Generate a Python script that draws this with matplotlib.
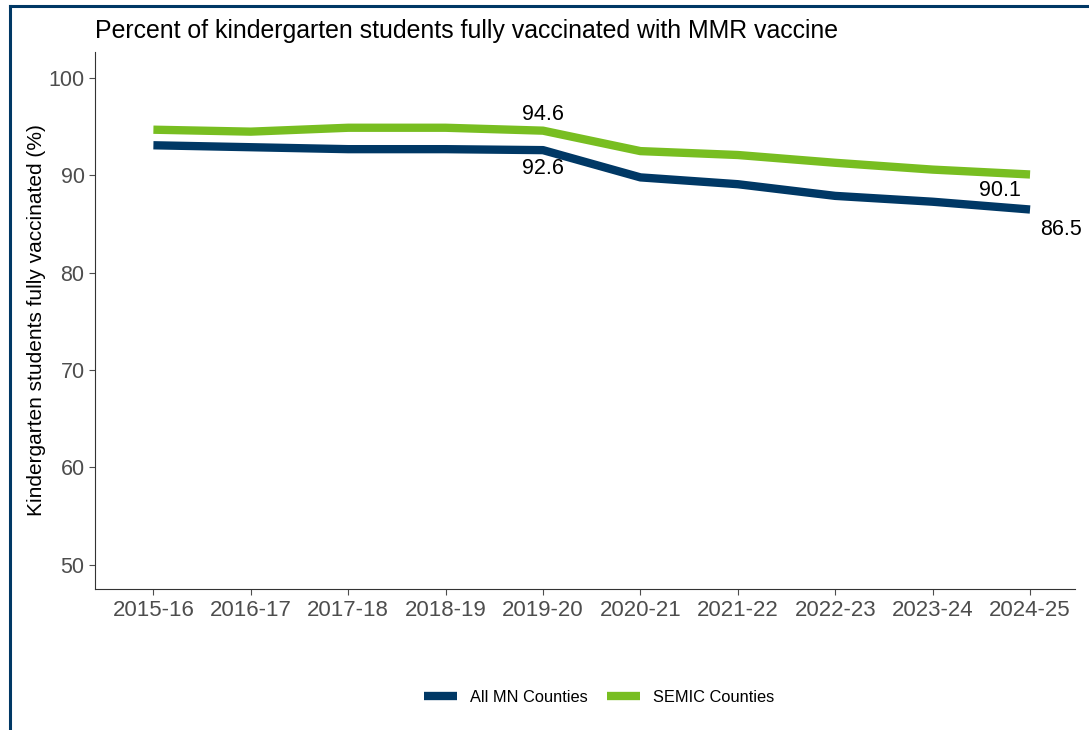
import matplotlib
matplotlib.use("Agg")
import matplotlib.pyplot as plt
from matplotlib.lines import Line2D

# Datos
years = ["2015-16", "2016-17", "2017-18", "2018-19", "2019-20",
         "2020-21", "2021-22", "2022-23", "2023-24", "2024-25"]
all_mn = [93.1, 92.9, 92.7, 92.7, 92.6, 89.8, 89.1, 87.9, 87.3, 86.5]
semic = [94.7, 94.5, 94.9, 94.9, 94.6, 92.5, 92.1, 91.3, 90.6, 90.1]

BLUE = "#003865"
GREEN = "#78BE21"

plt.rcParams['font.family'] = ['Liberation Sans', 'DejaVu Sans']

fig = plt.figure(figsize=(10.89, 7.30), dpi=100)
ax = fig.add_axes([0.0872, 0.193, 0.8998, 0.736])

x = list(range(len(years)))
ax.plot(x, all_mn, color=BLUE, lw=6, solid_capstyle='butt', label="All MN Counties")
ax.plot(x, semic, color=GREEN, lw=6, solid_capstyle='butt', label="SEMIC Counties")

# Etiquetas
ax.annotate(f"{semic[4]}", (x[4], semic[4]), xytext=(0, 4), textcoords='offset points',
            ha='center', va='bottom', fontsize=15.5)
ax.annotate(f"{all_mn[4]}", (x[4], all_mn[4]), xytext=(0, -6), textcoords='offset points',
            ha='center', va='top', fontsize=15.5)
ax.annotate(f"{semic[9]}", (x[9], semic[9]), xytext=(-22, -4), textcoords='offset points',
            ha='center', va='top', fontsize=15.5)
ax.annotate(f"{all_mn[9]}", (x[9], all_mn[9]), xytext=(22, -7), textcoords='offset points',
            ha='center', va='top', fontsize=15.5)

ax.set_xlim(-0.6, 9.46)
ax.set_ylim(47.5, 102.7)
ax.set_xticks(x)
ax.set_xticklabels(years)
ax.set_yticks([50, 60, 70, 80, 90, 100])
ax.tick_params(axis='x', labelsize=16)
ax.tick_params(axis='y', labelsize=15.5)
ax.tick_params(axis='both', colors='#4d4d4d', labelcolor='#4d4d4d', length=4)
for s in ['top', 'right']:
    ax.spines[s].set_visible(False)
for s in ['left', 'bottom']:
    ax.spines[s].set_color('#333333')

ax.set_ylabel("Kindergarten students fully vaccinated (%)", fontsize=15, labelpad=2)
ax.set_title("Percent of kindergarten students fully vaccinated with MMR vaccine",
             fontsize=17.9, loc='left', pad=10)

fig.legend(loc='center', bbox_to_anchor=(0.55, 0.045), ncol=2, frameon=False,
           fontsize=11.8, handlelength=2.0, columnspacing=1.2)

# Marco
fig.add_artist(Line2D([0.0095, 0.0095], [0, 0.992], color=BLUE, lw=2.2, transform=fig.transFigure))
fig.add_artist(Line2D([0.0095, 1.0], [0.992, 0.992], color=BLUE, lw=2.2, transform=fig.transFigure))

fig.savefig("out.png", dpi=100)
